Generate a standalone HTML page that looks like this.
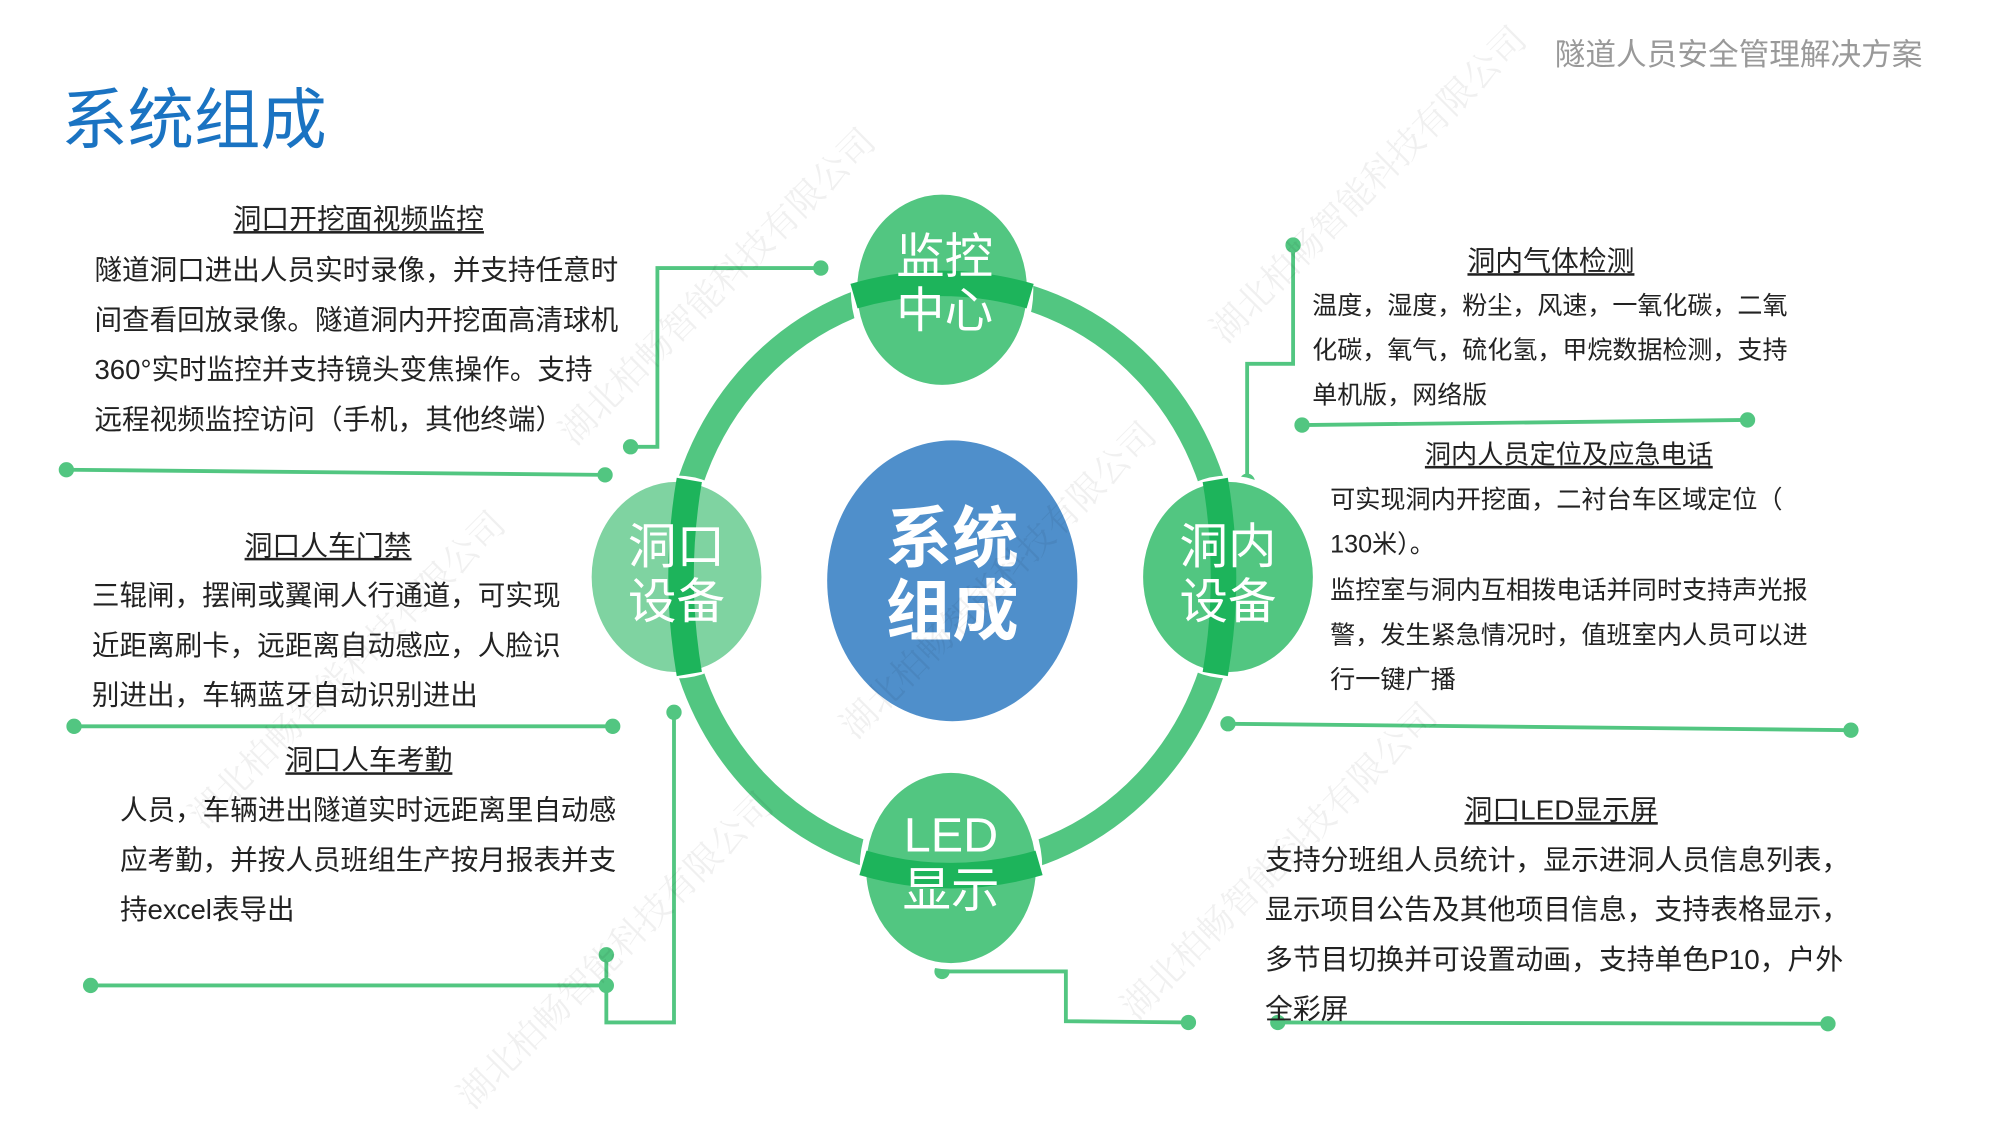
<!DOCTYPE html>
<html><head><meta charset="utf-8"><style>
html,body{margin:0;padding:0;background:#fff;overflow:hidden}
#w{position:absolute;left:0;top:0;width:1546px;height:870px;transform:scale(1.2765);transform-origin:0 0;font-family:"Liberation Sans","Noto Sans CJK SC",sans-serif;color:#222}
.t{position:absolute;white-space:nowrap;line-height:39px;font-size:21.6px}
.h{position:absolute;white-space:nowrap;font-size:21.8px;text-decoration:underline;transform:translateX(-50%);line-height:30px}
svg{position:absolute;left:0;top:0}
</style></head><body><div id="w">
<svg width="1546" height="870" viewBox="0 0 1546 870">
<g fill="none" stroke="#52c681" stroke-width="3">
<polyline points="643,210 515,210 515,350 494,350"/>
<line x1="52" y1="368" x2="474" y2="372"/>
<line x1="58" y1="569" x2="480" y2="569"/>
<line x1="71" y1="772" x2="475" y2="772"/>
<polyline points="528,558 528,801 475,801 475,748"/>
<polyline points="1013,192 1013,285 977,285 977,377"/>
<line x1="1020" y1="333" x2="1369" y2="329"/>
<line x1="962" y1="567" x2="1450" y2="572"/>
<line x1="1001" y1="801" x2="1432" y2="802"/>
<polyline points="738,761 835,761 835,800 931,801"/>
</g>
<g fill="#52c681">
<circle cx="643" cy="210" r="6"/><circle cx="494" cy="350" r="6"/>
<circle cx="52" cy="368" r="6"/><circle cx="474" cy="372" r="6"/>
<circle cx="58" cy="569" r="6"/><circle cx="480" cy="569" r="6"/>
<circle cx="71" cy="772" r="6"/><circle cx="475" cy="772" r="6"/>
<circle cx="528" cy="558" r="6"/><circle cx="475" cy="748" r="6"/>
<circle cx="1013" cy="192" r="6"/><circle cx="977" cy="377" r="6"/>
<circle cx="1020" cy="333" r="6"/><circle cx="1369" cy="329" r="6"/>
<circle cx="962" cy="567" r="6"/><circle cx="1450" cy="572" r="6"/>
<circle cx="1001" cy="801" r="6"/><circle cx="1432" cy="802" r="6"/>
<circle cx="738" cy="761" r="6"/><circle cx="931" cy="801" r="6"/>
</g>
<ellipse cx="745" cy="452" rx="216" ry="228" fill="none" stroke="#52c681" stroke-width="20"/>
<ellipse cx="746" cy="455" rx="98" ry="110" fill="#4f8fcb"/>
<g stroke="#fff" stroke-width="5">
<ellipse cx="738" cy="227" rx="69" ry="77" fill="#52c681"/>
<ellipse cx="530" cy="452" rx="69" ry="77" fill="#7fd3a1"/>
<ellipse cx="962" cy="452" rx="69" ry="77" fill="#52c681"/>
<ellipse cx="745" cy="680" rx="69" ry="77" fill="#52c681"/>
</g>
<g fill="none" stroke="#1db45b" stroke-width="20">
<path d="M669,232 Q738,212 807,232"/>
<path d="M540,376 Q527,452 540,528"/>
<path d="M952,376 Q965,452 952,528"/>
<path d="M676,676 Q745,696 814,676"/>
</g>
<g fill="#fff" font-size="38" text-anchor="middle" font-family="Liberation Sans,Noto Sans CJK SC,sans-serif">
<text x="740" y="214">监控</text><text x="740" y="256">中心</text>
<text x="530" y="441">洞口</text><text x="530" y="484">设备</text>
<text x="962" y="441">洞内</text><text x="962" y="484">设备</text>
<text x="745" y="667">LED</text><text x="745" y="710">显示</text>
<text x="746" y="440" font-size="52" font-weight="bold">系统</text>
<text x="746" y="497" font-size="52" font-weight="bold">组成</text>
</g>
<g fill="#000" fill-opacity="0.06" font-size="28" font-family="Liberation Serif,Noto Serif CJK SC,serif">
<text transform="translate(450,350) rotate(-45)">湖北柏畅智能科技有限公司</text>
<text transform="translate(670,580) rotate(-45)">湖北柏畅智能科技有限公司</text>
<text transform="translate(960,270) rotate(-45)">湖北柏畅智能科技有限公司</text>
<text transform="translate(160,650) rotate(-45)">湖北柏畅智能科技有限公司</text>
<text transform="translate(370,870) rotate(-45)">湖北柏畅智能科技有限公司</text>
<text transform="translate(890,800) rotate(-45)">湖北柏畅智能科技有限公司</text>
</g>
</svg>
<div class="t" style="left:48px;top:62px;font-size:52px;line-height:66px;color:#1a73c2">系统组成</div>
<div class="t" style="left:1218px;top:29px;font-size:24px;line-height:30px;color:#999">隧道人员安全管理解决方案</div>

<div class="h" style="left:281px;top:157px">洞口开挖面视频监控</div>
<div class="t" style="left:74px;top:192px">隧道洞口进出人员实时录像，并支持任意时<br>间查看回放录像。隧道洞内开挖面高清球机<br>360°实时监控并支持镜头变焦操作。支持<br>远程视频监控访问（手机，其他终端）</div>

<div class="h" style="left:257px;top:413px">洞口人车门禁</div>
<div class="t" style="left:72px;top:447px">三辊闸，摆闸或翼闸人行通道，可实现<br>近距离刷卡，远距离自动感应，人脸识<br>别进出，车辆蓝牙自动识别进出</div>

<div class="h" style="left:289px;top:581px">洞口人车考勤</div>
<div class="t" style="left:94px;top:615px">人员，车辆进出隧道实时远距离里自动感<br>应考勤，并按人员班组生产按月报表并支<br>持excel表导出</div>

<div class="h" style="left:1215px;top:190px">洞内气体检测</div>
<div class="t" style="left:1028px;top:223px;font-size:19.6px;line-height:35px">温度，湿度，粉尘，风速，一氧化碳，二氧<br>化碳，氧气，硫化氢，甲烷数据检测，支持<br>单机版，网络版</div>

<div class="h" style="left:1229px;top:342px;font-size:20.5px">洞内人员定位及应急电话</div>
<div class="t" style="left:1042px;top:375px;font-size:19.7px;line-height:35.3px">可实现洞内开挖面，二衬台车区域定位（<br>130米）。<br>监控室与洞内互相拨电话并同时支持声光报<br>警，发生紧急情况时，值班室内人员可以进<br>行一键广播</div>

<div class="h" style="left:1223px;top:620px">洞口LED显示屏</div>
<div class="t" style="left:991px;top:654px;font-size:21.8px">支持分班组人员统计，显示进洞人员信息列表，<br>显示项目公告及其他项目信息，支持表格显示，<br>多节目切换并可设置动画，支持单色P10，户外<br>全彩屏</div>
</div></body></html>
